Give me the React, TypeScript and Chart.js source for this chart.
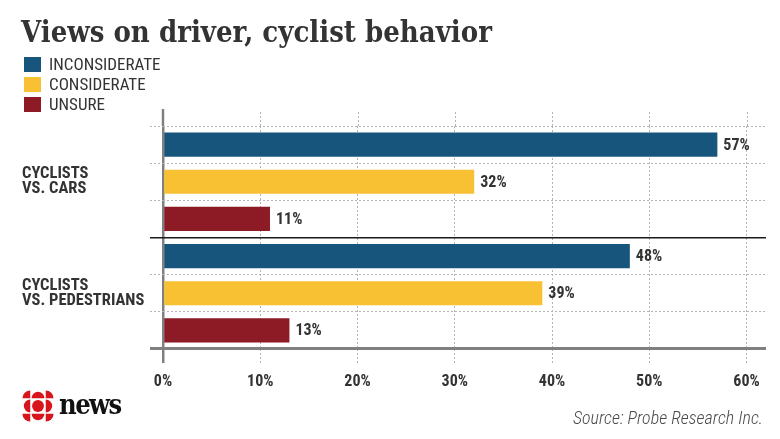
import React, { useEffect, useRef } from "react";
import { Chart, registerables } from "chart.js";

Chart.register(...registerables);

// ---- data ----
const titleText = "Views on driver, cyclist behavior";
const sourceText = "Source: Probe Research Inc.";
const groupLabels: string[][] = [
  ["CYCLISTS", "VS. CARS"],
  ["CYCLISTS", "VS. PEDESTRIANS"],
];
const seriesNames = ["INCONSIDERATE", "CONSIDERATE", "UNSURE"];
const seriesColors = ["#17557c", "#f8c133", "#8c1b26"];
const inconsiderate = [57, 48];
const considerate = [32, 39];
const unsure = [11, 13];
const seriesValues = [inconsiderate, considerate, unsure];
const xTickValues = [0, 10, 20, 30, 40, 50, 60];
const xMax = 62;

const TEXT = "#333333";
const GRID = "#b4b4b4";
const AXIS = "#808080";
const SEP = "#1a1a1a";
const CONDENSED = "'Roboto Condensed', 'Roboto', sans-serif";

// one row per (group, series)
const rows: { group: number; series: number }[] = [];
groupLabels.forEach((_, g) => seriesNames.forEach((__, s) => rows.push({ group: g, series: s })));
const rowLabels = rows.map((r) => (r.series === 1 ? groupLabels[r.group] : ""));

const decorPlugin = {
  id: "decor",
  afterDatasetsDraw(chart: any) {
    const ctx = chart.ctx as CanvasRenderingContext2D;
    const x = chart.scales.x;
    const area = chart.chartArea;
    ctx.save();
    // extend vertical grid lines / axis above the plot area
    x.ticks.forEach((t: any) => {
      const px = Math.round(x.getPixelForValue(t.value)) + 0.5;
      ctx.beginPath();
      if (t.value === 0) {
        ctx.strokeStyle = AXIS;
        ctx.lineWidth = 2.5;
        ctx.setLineDash([]);
        ctx.moveTo(px - 0.5, area.top - 17);
        ctx.lineTo(px - 0.5, area.top);
      } else {
        ctx.strokeStyle = GRID;
        ctx.lineWidth = 1;
        ctx.setLineDash([2, 2]);
        ctx.moveTo(px, area.top - 14);
        ctx.lineTo(px, area.top);
      }
      ctx.stroke();
    });
    ctx.setLineDash([]);
    // value labels
    ctx.font = `bold 16px ${CONDENSED}`;
    ctx.fillStyle = TEXT;
    ctx.textAlign = "left";
    ctx.textBaseline = "middle";
    chart.data.datasets.forEach((ds: any, di: number) => {
      const meta = chart.getDatasetMeta(di);
      meta.data.forEach((bar: any, j: number) => {
        const v = ds.data[j];
        if (v === null || v === undefined) return;
        ctx.fillText(`${v}%`, bar.x + 6, bar.y + 1);
      });
    });
    ctx.restore();
  },
};

function Gem() {
  const c = 50;
  const r = 14;
  const o = 17; // offset of side pieces
  const q = 17; // offset of corner pieces
  const qr = 17;
  return (
    <svg width="32" height="32" viewBox="15 15 70 70" style={{ position: "absolute", left: 22, top: 390 }}>
      <g fill="#d8141c">
        <circle cx={c} cy={c} r={13} />
        {/* side half discs */}
        <path d={`M ${c - r} ${c - o} A ${r} ${r} 0 0 1 ${c + r} ${c - o} Z`} />
        <path d={`M ${c + r} ${c + o} A ${r} ${r} 0 0 1 ${c - r} ${c + o} Z`} />
        <path d={`M ${c - o} ${c + r} A ${r} ${r} 0 0 1 ${c - o} ${c - r} Z`} />
        <path d={`M ${c + o} ${c - r} A ${r} ${r} 0 0 1 ${c + o} ${c + r} Z`} />
        {/* corner quarter discs */}
        <path d={`M ${c - q} ${c - q} L ${c - q - qr} ${c - q} A ${qr} ${qr} 0 0 1 ${c - q} ${c - q - qr} Z`} />
        <path d={`M ${c + q} ${c - q} L ${c + q} ${c - q - qr} A ${qr} ${qr} 0 0 1 ${c + q + qr} ${c - q} Z`} />
        <path d={`M ${c + q} ${c + q} L ${c + q + qr} ${c + q} A ${qr} ${qr} 0 0 1 ${c + q} ${c + q + qr} Z`} />
        <path d={`M ${c - q} ${c + q} L ${c - q} ${c + q + qr} A ${qr} ${qr} 0 0 1 ${c - q - qr} ${c + q} Z`} />
      </g>
    </svg>
  );
}

export default function App() {
  const canvasRef = useRef<HTMLCanvasElement | null>(null);

  useEffect(() => {
    if (!canvasRef.current) return;
    const datasets = seriesNames.map((name, s) => ({
      label: name,
      data: rows.map((r) => (r.series === s ? seriesValues[s][r.group] : null)),
      backgroundColor: seriesColors[s],
      borderWidth: 0,
      barPercentage: 0.65,
      categoryPercentage: 1,
      skipNull: true,
    }));

    const isTick = (ctx: any) => ctx.type === "tick";
    const isZero = (ctx: any) => isTick(ctx) && ctx.tick && ctx.tick.value === 0;
    const chart = new Chart(canvasRef.current, {
      type: "bar",
      data: { labels: rowLabels, datasets },
      plugins: [decorPlugin],
      options: {
        indexAxis: "y",
        animation: false,
        responsive: false,
        maintainAspectRatio: false,
        layout: { padding: { left: 22, right: 14, top: 126, bottom: 40 } },
        plugins: { legend: { display: false }, tooltip: { enabled: false }, title: { display: false } },
        scales: {
          x: {
            type: "linear",
            min: 0,
            max: xMax,
            afterFit: (scale: any) => {
              scale.height = 50;
            },
            afterBuildTicks: (scale: any) => {
              scale.ticks = xTickValues.map((v) => ({ value: v }));
            },
            ticks: {
              includeBounds: false,
              stepSize: 10,
              padding: 9,
              color: TEXT,
              font: { family: CONDENSED, weight: "bold", size: 16 },
              callback: (v: any) => `${v}%`,
            },
            grid: {
              color: (ctx: any) => (isZero(ctx) ? AXIS : GRID),
              lineWidth: (ctx: any) => (isZero(ctx) ? 2.5 : 1),
              tickColor: (ctx: any) => (isZero(ctx) ? AXIS : GRID),
              tickWidth: (ctx: any) => (isZero(ctx) ? 2.5 : 1),
              tickBorderDash: (ctx: any) => (isZero(ctx) ? [] : [2, 2]),
              tickLength: 14,
              drawTicks: true,
            },
            border: {
              display: false,
              dash: (ctx: any) => (isZero(ctx) ? [] : [2, 2]),
            },
          },
          y: {
            type: "category",
            offset: true,
            afterFit: (scale: any) => {
              scale.width = 141;
            },
            ticks: {
              autoSkip: false,
              crossAlign: "far",
              color: TEXT,
              font: { family: CONDENSED, weight: "bold", size: 16.5, lineHeight: 0.92 },
            },
            grid: {
              offset: true,
              color: (ctx: any) => (!isTick(ctx) ? AXIS : ctx.index === 3 ? SEP : GRID),
              lineWidth: (ctx: any) => (!isTick(ctx) ? 3 : ctx.index === 3 ? 1.5 : 1),
              tickColor: (ctx: any) => (!isTick(ctx) ? AXIS : ctx.index === 3 ? SEP : GRID),
              tickWidth: (ctx: any) => (!isTick(ctx) ? 3 : ctx.index === 3 ? 1.5 : 1),
              tickBorderDash: (ctx: any) => (isTick(ctx) && ctx.index !== 3 ? [2, 2] : []),
              tickLength: 13,
              drawTicks: true,
            },
            border: {
              display: false,
              dash: (ctx: any) => (isTick(ctx) && ctx.index !== 3 ? [2, 2] : []),
            },
          },
        },
      } as any,
    });
    return () => chart.destroy();
  }, []);

  return (
    <div
      style={{
        position: "absolute",
        left: 0,
        top: 0,
        width: 780,
        height: 439,
        background: "#ffffff",
        overflow: "hidden",
      }}
    >
      <canvas ref={canvasRef} width={780} height={439} style={{ position: "absolute", left: 0, top: 0 }} />
      <div
        style={{
          position: "absolute",
          left: 21,
          top: 18,
          fontFamily: "'DejaVu Serif Condensed', 'DejaVu Serif', serif",
          fontWeight: 700,
          fontSize: 29,
          lineHeight: "29px",
          color: TEXT,
          whiteSpace: "nowrap",
        }}
      >
        {titleText}
      </div>
      {seriesNames.map((name, i) => (
        <div key={name} style={{ position: "absolute", left: 24, top: 56 + i * 20, height: 16, display: "flex", alignItems: "center" }}>
          <div style={{ width: 17, height: 15, background: seriesColors[i] }} />
          <div
            style={{
              marginLeft: 8,
              fontFamily: CONDENSED,
              fontSize: 17,
              lineHeight: "16px",
              color: TEXT,
              whiteSpace: "nowrap",
            }}
          >
            {name}
          </div>
        </div>
      ))}
      <div
        style={{
          position: "absolute",
          right: 17,
          top: 408,
          fontFamily: CONDENSED,
          fontStyle: "italic",
          fontWeight: 300,
          fontSize: 18,
          lineHeight: "20px",
          color: "#4a4a4a",
          whiteSpace: "nowrap",
        }}
      >
        {sourceText}
      </div>
      <Gem />
      <div
        style={{
          position: "absolute",
          left: 59,
          top: 391,
          fontFamily: "'DejaVu Serif Condensed', 'DejaVu Serif', serif",
          fontWeight: 700,
          fontSize: 27,
          lineHeight: "27px",
          letterSpacing: "-1.5px",
          color: "#111111",
        }}
      >
        news
      </div>
    </div>
  );
}
